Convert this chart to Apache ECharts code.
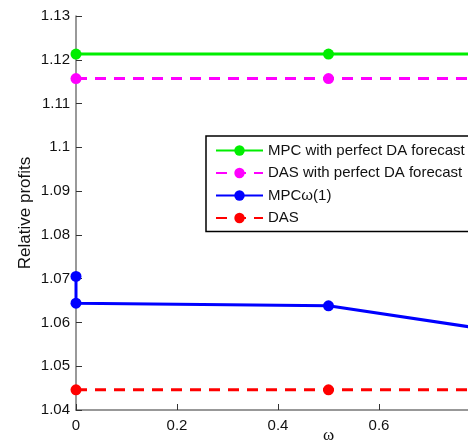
<!DOCTYPE html>
<html><head><meta charset="utf-8">
<script src="https://cdn.jsdelivr.net/npm/echarts@6/dist/echarts.min.js"></script>
<style>html,body{margin:0;padding:0;background:#fff}#c{width:468px;height:444px}</style>
</head><body><div id="c"></div>
<script>
const omega = [0, 0.5, 1];
const omegaMPC = [0, 0, 0.5, 1];
const mpcPerfect = [1.1213, 1.1213, 1.1213];
const dasPerfect = [1.1157, 1.1157, 1.1157];
const mpcOmega = [1.0705, 1.0644, 1.0638, 1.0552];
const das = [1.0446, 1.0446, 1.0446];
const names = ['MPC with perfect DA forecast', 'DAS with perfect DA forecast', 'MPC\u03c9(1)', 'DAS'];

const font = 'Liberation Sans, Arial, sans-serif';
function pairs(xs, ys){ return xs.map((x,i)=>[x, ys[i]]); }
function mk(name, xs, ys, color, dashed){
  return {name, type:'line', data:pairs(xs, ys), symbol:'circle', symbolSize:11,
    itemStyle:{color}, lineStyle:{color, width:3, type: dashed ? [11,8] : 'solid'},
    emphasis:{disabled:true}, animation:false};
}
const chart = echarts.init(document.getElementById('c'));
chart.setOption({
  backgroundColor:'#fff',
  grid:{left:76, width:505, top:16, bottom:34, containLabel:false, outerBoundsMode:'none'},
  xAxis:{type:'value', min:0, max:1, interval:0.2, name:'\u03c9', nameLocation:'middle', nameGap:17, nameMoveOverlap:false,
    nameTextStyle:{fontFamily:'Liberation Serif, serif', fontSize:17, color:'#111', verticalAlign:'top'},
    axisLine:{lineStyle:{color:'#777', width:1.5}}, axisTick:{inside:true, length:6, lineStyle:{color:'#333'}},
    axisLabel:{fontFamily:font, fontSize:15, color:'#111', margin:8}, splitLine:{show:false}},
  yAxis:{type:'value', min:1.04, max:1.13, interval:0.01, name:'Relative profits', nameLocation:'middle', nameGap:42, nameMoveOverlap:false,
    nameTextStyle:{fontFamily:font, fontSize:17, color:'#111'},
    axisLine:{show:true, lineStyle:{color:'#777', width:1.5}}, axisTick:{show:true, inside:true, length:6, lineStyle:{color:'#333'}},
    axisLabel:{fontFamily:font, fontSize:15, color:'#111', margin:6, formatter:v=>String(parseFloat(v.toFixed(2)))},
    splitLine:{show:false}},
  legend:{orient:'vertical', left:206, top:136, data:names, itemWidth:47, itemHeight:13, itemGap:7.5,
    padding:[7,10,6,9], backgroundColor:'#fff', borderColor:'#000', borderWidth:1.5, borderRadius:0,
    textStyle:{fontFamily:font, fontSize:15, color:'#111'}, selectedMode:false},
  series:[
    mk(names[0], omega, mpcPerfect, '#00ee00', false),
    mk(names[1], omega, dasPerfect, '#ff00ff', true),
    mk(names[2], omegaMPC, mpcOmega, '#0000ff', false),
    mk(names[3], omega, das, '#ff0000', true)
  ]
});
</script></body></html>
